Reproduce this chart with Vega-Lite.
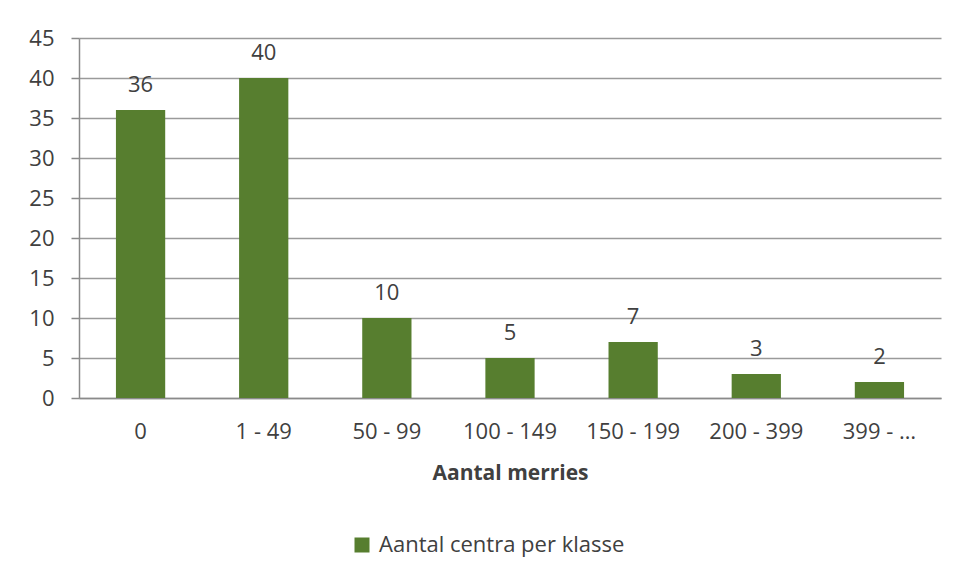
{
  "$schema": "https://vega.github.io/schema/vega-lite/v6.json",
  "width": 862,
  "height": 360,
  "autosize": {"type": "none"},
  "padding": {"left": 79, "top": 38, "right": 18, "bottom": 180},
  "background": "#ffffff",
  "data": {
    "values": [
      {"klasse": "0", "aantal": 36, "serie": "Aantal centra per klasse"},
      {"klasse": "1 - 49", "aantal": 40, "serie": "Aantal centra per klasse"},
      {"klasse": "50 - 99", "aantal": 10, "serie": "Aantal centra per klasse"},
      {"klasse": "100 - 149", "aantal": 5, "serie": "Aantal centra per klasse"},
      {"klasse": "150 - 199", "aantal": 7, "serie": "Aantal centra per klasse"},
      {"klasse": "200 - 399", "aantal": 3, "serie": "Aantal centra per klasse"},
      {"klasse": "399 - …", "aantal": 2, "serie": "Aantal centra per klasse"}
    ]
  },
  "encoding": {
    "x": {
      "field": "klasse",
      "type": "nominal",
      "sort": null,
      "scale": {"paddingInner": 0.6, "paddingOuter": 0.3},
      "axis": {
        "title": "Aantal merries",
        "titleFont": "Open Sans",
        "titleFontWeight": "bold",
        "titleFontSize": 21,
        "titleColor": "#404040",
        "titlePadding": 20,
        "labelAngle": 0,
        "labelFont": "Open Sans",
        "labelFontSize": 22,
        "labelColor": "#404040",
        "labelPadding": 23,
        "labelLimit": 0,
        "ticks": false,
        "tickSize": 0,
        "domainColor": "#8a8a8a",
        "domainWidth": 1.5
      }
    },
    "y": {
      "field": "aantal",
      "type": "quantitative",
      "scale": {"domain": [0, 45], "nice": false},
      "axis": {
        "title": null,
        "values": [0, 5, 10, 15, 20, 25, 30, 35, 40, 45],
        "labelFont": "Open Sans",
        "labelFontSize": 22,
        "labelColor": "#404040",
        "labelPadding": 17,
        "tickSize": 8,
        "tickColor": "#8a8a8a",
        "tickWidth": 1.5,
        "domainColor": "#8a8a8a",
        "domainWidth": 1.5,
        "gridColor": "#9a9a9a",
        "gridWidth": 1.3
      }
    }
  },
  "layer": [
    {
      "mark": {"type": "bar"},
      "encoding": {
        "color": {
          "field": "serie",
          "type": "nominal",
          "scale": {"range": ["#577E2F"]},
          "legend": {
            "title": null,
            "orient": "none",
            "legendX": 272,
            "legendY": 496,
            "symbolType": "square",
            "symbolSize": 225,
            "symbolStrokeWidth": 0,
            "labelFont": "Open Sans",
            "labelFontSize": 22,
            "labelColor": "#404040",
            "labelOffset": 6,
            "labelLimit": 0
          }
        }
      }
    },
    {
      "mark": {
        "type": "text",
        "baseline": "alphabetic",
        "dy": -18,
        "font": "Open Sans",
        "fontSize": 22,
        "color": "#404040"
      },
      "encoding": {
        "text": {"field": "aantal", "type": "quantitative"}
      }
    }
  ],
  "config": {
    "view": {"stroke": null}
  }
}
